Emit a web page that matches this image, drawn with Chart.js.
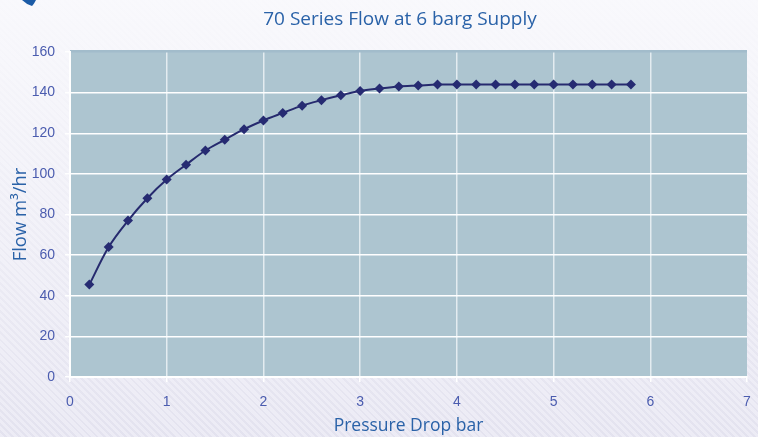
<!DOCTYPE html>
<html>
<head>
<meta charset="utf-8">
<script src="https://cdn.jsdelivr.net/npm/chart.js@4.4.0/dist/chart.umd.min.js"></script>
<style>
  html, body { margin: 0; padding: 0; }
  body {
    width: 758px; height: 437px; overflow: hidden;
    background:
      linear-gradient(to bottom, rgba(250,250,253,0.92) 0%, rgba(248,248,252,0.6) 45%, rgba(240,240,248,0.1) 100%),
      repeating-linear-gradient(45deg, #ecebf5 0px, #ecebf5 3px, #e2e1ee 3px, #e2e1ee 5px);
  }
  #wrap { position: relative; width: 758px; height: 437px; }
</style>
</head>
<body>
<div id="wrap"><canvas id="flowChart"></canvas></div>
<script>
// Pressure drop (bar) and flow (m3/hr)
const pressureDrop = [0.2, 0.4, 0.6, 0.8, 1.0, 1.2, 1.4, 1.6, 1.8, 2.0,
                      2.2, 2.4, 2.6, 2.8, 3.0, 3.2, 3.4, 3.6, 3.8, 4.0,
                      4.2, 4.4, 4.6, 4.8, 5.0, 5.2, 5.4, 5.6, 5.8];
const flowRate = [45.5, 64, 77, 88, 97.2, 104.5, 111.5, 116.8, 122, 126.3,
                  130, 133.6, 136.3, 138.7, 140.8, 142, 143, 143.5, 144, 144,
                  144, 144, 144, 144, 144, 144, 144, 144, 144];

const xTicks = [0, 1, 2, 3, 4, 5, 6, 7];
const yTicks = [0, 20, 40, 60, 80, 100, 120, 140, 160];

const chartTitle = '70 Series Flow at 6 barg Supply';
const xTitle = 'Pressure Drop bar';
const yTitle = 'Flow m\u00B3/hr';

const TICK_COLOR = '#4b5caf';
const TITLE_COLOR = '#2a62a8';

// plot background + header
const decorPlugin = {
    id: 'decor',
    beforeDraw(chart) {
        const { ctx, chartArea: a } = chart;
        ctx.save();
        ctx.fillStyle = '#adc5d0';
        ctx.fillRect(a.left, a.top, a.right - a.left, a.bottom - a.top);
        ctx.fillStyle = '#a2bccb';
        ctx.fillRect(a.left, a.top - 2, a.right - a.left, 2);

        // corner wedge
        ctx.fillStyle = '#1b5ba6';
        ctx.beginPath();
        ctx.moveTo(22, 0);
        ctx.lineTo(36, 0);
        ctx.quadraticCurveTo(34, 4, 32, 6);
        ctx.quadraticCurveTo(26, 4, 22, 0);
        ctx.fill();

        ctx.fillStyle = TITLE_COLOR;
        ctx.font = '19px "Open Sans"';
        ctx.textAlign = 'center';
        ctx.textBaseline = 'middle';
        ctx.fillText(chartTitle, 400, 20);
        ctx.restore();
    }
};

new Chart(document.getElementById('flowChart'), {
    type: 'line',
    data: {
        datasets: [{
            label: 'Flow',
            data: pressureDrop.map((p, i) => ({ x: p, y: flowRate[i] })),
            borderColor: '#262a6e',
            borderWidth: 2,
            backgroundColor: '#262b72',
            pointStyle: 'rectRot',
            pointRadius: 5,
            pointBorderWidth: 0,
            tension: 0.35,
            fill: false
        }]
    },
    options: {
        responsive: true,
        maintainAspectRatio: false,
        animation: false,
        layout: { padding: { top: 52, right: 11, left: 0, bottom: 0 } },
        plugins: {
            legend: { display: false },
            tooltip: { enabled: false }
        },
        scales: {
            x: {
                type: 'linear',
                min: 0,
                max: 7,
                afterFit: s => { s.height = 60; s.paddingLeft = 0; s.paddingRight = 0; },
                afterBuildTicks: s => { s.ticks = xTicks.map(v => ({ value: v })); },
                grid: {
                    color: c => (c.tick && c.tick.value === 7) ? 'rgba(0,0,0,0)' : '#e3ecf0',
                    lineWidth: 1.5,
                    tickLength: 5,
                    tickColor: '#ffffff'
                },
                border: { display: true, color: '#ffffff', width: 2 },
                ticks: {
                    color: TICK_COLOR,
                    font: { family: '"Liberation Sans", Arial', size: 14 },
                    padding: 12,
                    maxRotation: 0
                },
                title: {
                    display: true,
                    text: xTitle,
                    color: TITLE_COLOR,
                    font: { family: '"Open Sans"', size: 17.5 },
                    padding: { top: 0, bottom: 0 }
                }
            },
            y: {
                min: 0,
                max: 160,
                afterFit: s => { s.width = 70; },
                afterBuildTicks: s => { s.ticks = yTicks.map(v => ({ value: v })); },
                grid: {
                    color: c => (c.tick && c.tick.value === 160) ? '#a2bccb' : '#ffffff',
                    lineWidth: 1.5,
                    tickLength: 5,
                    tickColor: '#ffffff'
                },
                border: { display: true, color: '#ffffff', width: 2 },
                ticks: {
                    color: TICK_COLOR,
                    font: { family: '"Liberation Sans", Arial', size: 14 },
                    padding: 10
                },
                title: {
                    display: true,
                    text: yTitle,
                    color: TITLE_COLOR,
                    font: { family: '"Open Sans"', size: 18.5 },
                    padding: { top: 10, bottom: 0 }
                }
            }
        }
    },
    plugins: [decorPlugin]
});
</script>
</body>
</html>
